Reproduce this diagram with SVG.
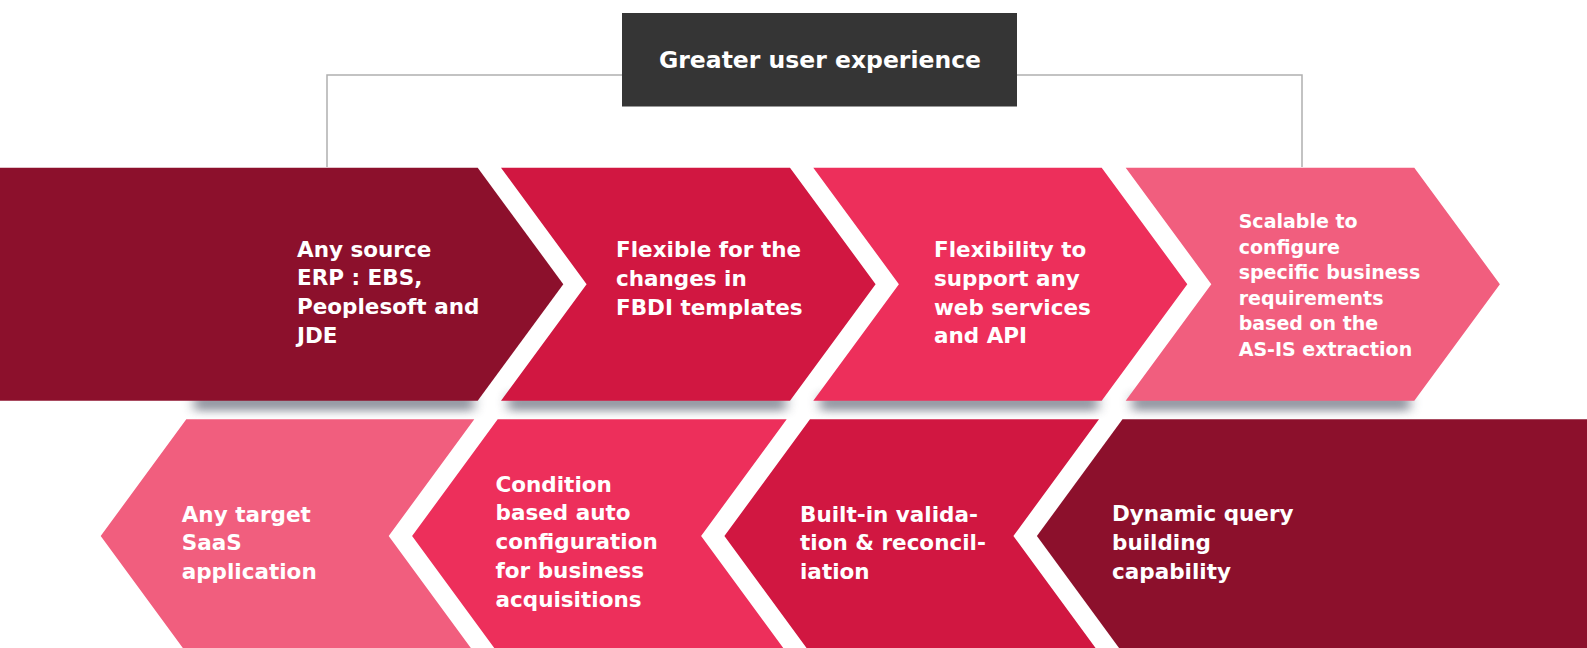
<svg xmlns="http://www.w3.org/2000/svg" width="1587" height="648" viewBox="0 0 1587 648">
  <defs>
    <style>
      .t { font-family: "DejaVu Sans", "Liberation Sans", sans-serif; font-weight: bold; fill: #ffffff; font-size: 21.5px; }
      .s { font-size: 19px; }
      .title { font-size: 23.5px; text-anchor: middle; }
      .c1 { fill: #8C102C; }
      .c2 { fill: #D11741; }
      .c3 { fill: #ED2F5B; }
      .c4 { fill: #F15E7E; }
      .conn { fill: none; stroke: #b0b0b0; stroke-width: 1.5; }
      .shadow { fill: #4f5566; opacity: 0.6; filter: url(#blur); }
    </style>
    <filter id="blur" x="-10%" y="-200%" width="120%" height="500%">
      <feGaussianBlur stdDeviation="6 4"/>
    </filter>
  </defs>
  <rect width="1587" height="648" fill="#ffffff"/>

  <g id="connectors">
    <path class="conn" d="M327,167 V75 H1302 V167"/>
  </g>

  <g id="shadows">
    <rect class="shadow" x="194" y="394" width="280" height="17"/>
    <rect class="shadow" x="508" y="394" width="278" height="17"/>
    <rect class="shadow" x="820" y="394" width="278" height="17"/>
    <rect class="shadow" x="1132" y="394" width="278" height="17"/>
  </g>

  <g id="top">
    <rect x="622" y="13" width="395" height="93.5" fill="#353535"/>
    <text class="t title" x="820" y="68">Greater user experience</text>
  </g>

  <g id="node1">
    <polygon class="c1" points="0,167.7 477.7,167.7 563.3,284.2 477.7,400.7 0,400.7"/>
    <text class="t"><tspan x="297" y="256.7">Any source</tspan><tspan x="297" y="285.4">ERP : EBS,</tspan><tspan x="297" y="314.1">Peoplesoft and</tspan><tspan x="297" y="342.8">JDE</tspan></text>
  </g>
  <g id="node2">
    <polygon class="c2" points="501,167.7 790,167.7 875.6,284.2 790,400.7 501,400.7 586.6,284.2"/>
    <text class="t"><tspan x="616" y="257.3">Flexible for the</tspan><tspan x="616" y="286">changes in</tspan><tspan x="616" y="314.7">FBDI templates</tspan></text>
  </g>
  <g id="node3">
    <polygon class="c3" points="813.3,167.7 1101.7,167.7 1187.3,284.2 1101.7,400.7 813.3,400.7 898.9,284.2"/>
    <text class="t"><tspan x="934" y="257.3">Flexibility to</tspan><tspan x="934" y="286">support any</tspan><tspan x="934" y="314.7">web services</tspan><tspan x="934" y="343.4">and API</tspan></text>
  </g>
  <g id="node4">
    <polygon class="c4" points="1125.7,167.7 1414.3,167.7 1499.9,284.2 1414.3,400.7 1125.7,400.7 1211.3,284.2"/>
    <text class="t s"><tspan x="1238.7" y="228.3">Scalable to</tspan><tspan x="1238.7" y="253.8">configure</tspan><tspan x="1238.7" y="279.3">specific business</tspan><tspan x="1238.7" y="304.8">requirements</tspan><tspan x="1238.7" y="330.3">based on the</tspan><tspan x="1238.7" y="355.8">AS-IS extraction</tspan></text>
  </g>

  <g id="node5">
    <polygon class="c4" points="100.7,536 186.3,419.3 474.3,419.3 388.7,536 474.3,652.7 186.3,652.7"/>
    <text class="t"><tspan x="181.7" y="521.7">Any target</tspan><tspan x="181.7" y="550.4">SaaS</tspan><tspan x="181.7" y="579.1">application</tspan></text>
  </g>
  <g id="node6">
    <polygon class="c3" points="412.1,536 497.7,419.3 786.7,419.3 701.1,536 786.7,652.7 497.7,652.7"/>
    <text class="t"><tspan x="495.5" y="491.7">Condition</tspan><tspan x="495.5" y="520.4">based auto</tspan><tspan x="495.5" y="549.1">configuration</tspan><tspan x="495.5" y="577.8">for business</tspan><tspan x="495.5" y="606.5">acquisitions</tspan></text>
  </g>
  <g id="node7">
    <polygon class="c2" points="724.4,536 810,419.3 1099,419.3 1013.4,536 1099,652.7 810,652.7"/>
    <text class="t"><tspan x="800" y="521.7">Built-in valida-</tspan><tspan x="800" y="550.4">tion &amp; reconcil-</tspan><tspan x="800" y="579.1">iation</tspan></text>
  </g>
  <g id="node8">
    <polygon class="c1" points="1036.9,536 1122.5,419.3 1587,419.3 1587,652.7 1122.5,652.7"/>
    <text class="t"><tspan x="1112" y="521.2">Dynamic query</tspan><tspan x="1112" y="549.9">building</tspan><tspan x="1112" y="578.6">capability</tspan></text>
  </g>
</svg>
